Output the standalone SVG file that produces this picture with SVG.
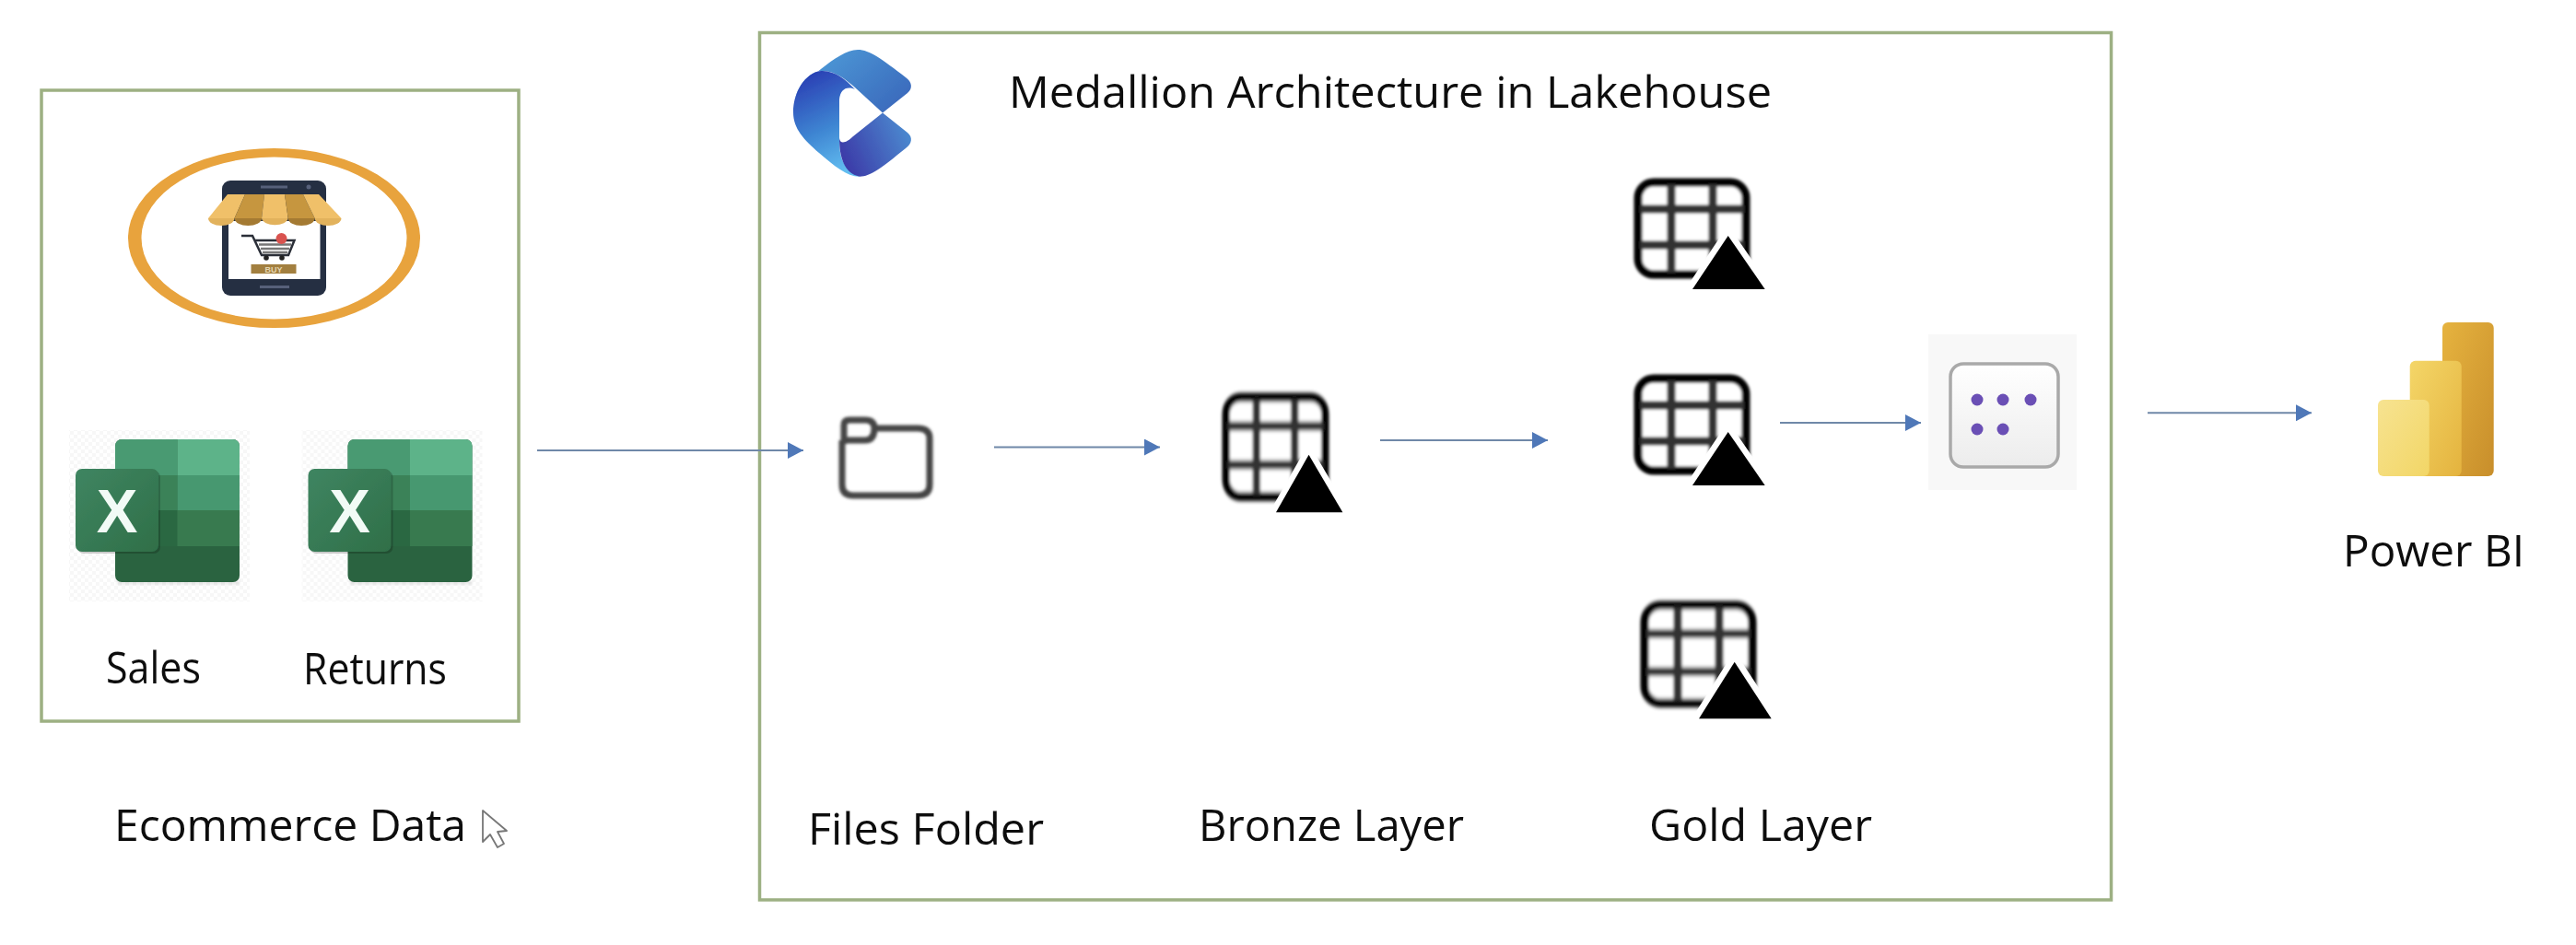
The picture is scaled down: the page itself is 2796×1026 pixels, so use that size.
<svg xmlns="http://www.w3.org/2000/svg" width="2796" height="1026" viewBox="0 0 2796 1026">
<style>
.box{fill:#fff;stroke:#9DB083;stroke-width:3.5}
.lbl{font-family:"Open Sans","Liberation Sans",sans-serif;font-size:47px;fill:#111;filter:url(#soft2)}
.conn{fill:none;stroke:#6F88A8;stroke-width:2;marker-end:url(#arr)}
</style>
<defs>
<marker id="arr" markerUnits="userSpaceOnUse" markerWidth="18" markerHeight="18" refX="17" refY="9" orient="auto"><path d="M0 0L17 9L0 18Z" fill="#4F78B8"/></marker>
<filter id="soft" x="-10%" y="-10%" width="120%" height="120%"><feGaussianBlur stdDeviation="1.8"/></filter>
<filter id="soft2" x="-10%" y="-10%" width="120%" height="120%"><feGaussianBlur stdDeviation="0.7"/></filter>
<pattern id="chk" width="8" height="8" patternUnits="userSpaceOnUse"><rect width="8" height="8" fill="#fff"/><rect width="4" height="4" fill="#f1f1f1"/><rect x="4" y="4" width="4" height="4" fill="#f1f1f1"/></pattern>
<linearGradient id="xfront" x1="0" y1="0" x2="1" y2="1"><stop offset="0" stop-color="#3F8561"/><stop offset="1" stop-color="#2F6F48"/></linearGradient>
<linearGradient id="lgA" x1="0" y1="0" x2="1" y2="0.6"><stop offset="0" stop-color="#50A3DC"/><stop offset="1" stop-color="#3C6DBE"/></linearGradient>
<linearGradient id="lgB" x1="0.3" y1="0" x2="0.6" y2="1"><stop offset="0" stop-color="#2A3FB4"/><stop offset="0.55" stop-color="#3E85D2"/><stop offset="1" stop-color="#62BDF0"/></linearGradient>
<linearGradient id="lgC" x1="0" y1="0.6" x2="1" y2="0.2"><stop offset="0" stop-color="#3C3BA8"/><stop offset="1" stop-color="#4C8ED2"/></linearGradient>
<linearGradient id="pb1" x1="0" y1="0" x2="1" y2="1"><stop offset="0" stop-color="#E6B33F"/><stop offset="1" stop-color="#C88E2B"/></linearGradient>
<linearGradient id="pb2" x1="0" y1="0" x2="1" y2="1"><stop offset="0" stop-color="#F4D668"/><stop offset="1" stop-color="#E4B33E"/></linearGradient>
<linearGradient id="pb3" x1="0" y1="0" x2="1" y2="1"><stop offset="0" stop-color="#F7E391"/><stop offset="1" stop-color="#F2D666"/></linearGradient>
<linearGradient id="sm" x1="0" y1="0" x2="0" y2="1"><stop offset="0" stop-color="#fff"/><stop offset="1" stop-color="#ececec"/></linearGradient>
<g id="tableIcon">
<g filter="url(#soft)">
<rect x="4" y="4" width="117" height="100" rx="17" fill="#fff" stroke="#000" stroke-width="9"/>
<path d="M40 6V102M85 6V102M6 33H119M6 72H119" stroke="#333" stroke-width="9" fill="none"/>
</g>
<path d="M101.700 62L63 120H141.700Z" fill="#fff" stroke="#fff" stroke-width="13" stroke-linejoin="miter"/>
<path d="M101.700 62L63 120H141.700Z" fill="#000" filter="url(#soft2)"/>
</g>
<g id="excelIcon">
<rect x="75" y="467" width="196" height="186" fill="url(#chk)" opacity="0.55"/>
<rect x="127" y="630" width="133" height="5" fill="#000" opacity="0.08" filter="url(#soft)"/>
<g filter="url(#soft2)">
<rect x="125" y="477" width="135" height="155" rx="7" fill="#2B6340"/>
<path d="M132 477H192.500V516H125V484A7 7 0 0 1 132 477Z" fill="#4A9A72"/>
<path d="M192.500 477H253A7 7 0 0 1 260 484V516H192.500Z" fill="#5DB389"/>
<rect x="125" y="516" width="67.500" height="38" fill="#3A8259"/>
<rect x="192.500" y="516" width="67.500" height="38" fill="#47986F"/>
<rect x="125" y="554" width="67.500" height="39" fill="#2C6743"/>
<rect x="192.500" y="554" width="67.500" height="39" fill="#377A50"/>
<rect x="84" y="511" width="90" height="90" rx="7" fill="#000" opacity="0.2"/>
<rect x="82" y="509" width="90" height="90" rx="7" fill="url(#xfront)"/>
<text x="127" y="578" font-family="'Liberation Sans',sans-serif" font-weight="700" font-size="67" text-anchor="middle" fill="#F2FBF6">X</text>
</g>
</g>
</defs>
<rect width="2796" height="1026" fill="#fff"/>

<g id="ecommerce-box"><rect class="box" x="45" y="98" width="518" height="685"/></g>

<g id="store">
<path fill-rule="evenodd" fill="#E8A33D" d="M139 258.500a158.500 97.500 0 1 0 317 0a158.500 97.500 0 1 0-317 0ZM153.500 258.500a144 88 0 1 1 288 0a144 88 0 1 1-288 0Z"/>
<rect x="241" y="196" width="113" height="125" rx="9" fill="#252F42"/>
<rect x="248" y="240" width="99.500" height="63" fill="#fff"/>
<path d="M283 203H312M282 311.500H314" stroke="#56607A" stroke-width="3" fill="none"/>
<circle cx="335" cy="203" r="2.500" fill="#56607A"/>
<path d="M247 211H266L254.500 237H226Z" fill="#F0C069"/>
<path d="M266 211H287L284 237H254.500Z" fill="#C6963F"/>
<path d="M287 211H309L312.700 237H284Z" fill="#F0C069"/>
<path d="M309 211H329L341.700 237H312.700Z" fill="#C6963F"/>
<path d="M329 211H346L370.500 237H341.700Z" fill="#F0C069"/>
<path d="M226 237a14.200 8 0 0 0 28.500 0Z" fill="#E2B25C"/>
<path d="M254.500 237a14.700 8 0 0 0 29.500 0Z" fill="#A47A32"/>
<path d="M284 237a14.400 8 0 0 0 28.700 0Z" fill="#E2B25C"/>
<path d="M312.700 237a14.500 8 0 0 0 29 0Z" fill="#A47A32"/>
<path d="M341.700 237a14.400 8 0 0 0 28.800 0Z" fill="#E2B25C"/>
<path d="M262 256H274L284 277H313L319.500 261H277" fill="none" stroke="#2B2F38" stroke-width="2.500"/>
<path d="M281 265.500H316M283 270H314M285 274H312" stroke="#777" stroke-width="2.500" fill="none"/>
<circle cx="289" cy="280" r="2.800" fill="#222"/><circle cx="306" cy="280" r="2.800" fill="#222"/>
<circle cx="305.500" cy="259" r="6" fill="#D9534F"/>
<rect x="272.500" y="287" width="49" height="10" fill="#A27F3F"/>
<text x="297" y="295.500" font-family="'Liberation Sans',sans-serif" font-size="9" font-weight="700" text-anchor="middle" fill="#E5D6B0">BUY</text>
</g>

<g id="sales"><use href="#excelIcon"/><text class="lbl" x="115" y="742" textLength="103" lengthAdjust="spacingAndGlyphs">Sales</text></g>
<g id="returns"><use href="#excelIcon" x="252.500"/><text class="lbl" x="329" y="743" textLength="156" lengthAdjust="spacingAndGlyphs">Returns</text></g>

<g id="ecommerce-label"><text class="lbl" x="124" y="913" textLength="382" lengthAdjust="spacingAndGlyphs">Ecommerce Data</text></g>
<g id="cursor"><path d="M524 880V914L532 906L540 920L547 916L540 903L550 902Z" fill="#fff" stroke="#777" stroke-width="1.800" stroke-linejoin="round"/></g>

<g id="lakehouse-box"><rect class="box" x="824.500" y="35.500" width="1467" height="941.500"/></g>

<g id="logo" filter="url(#soft2)">
<path d="M861 122C861 100 872 90 891 75C905 64 919 54 931 54C944 54 957 64 983 84C990 89 991 96 985 101L958 122.500L928 95C918 86 905 76 891 77C874 79 861 100 861 122Z" fill="url(#lgA)"/>
<path d="M891 77C905 76 918 86 928 97C918 93 912 98 911 108V150C911 170 914 183 933 191.700C920 192 905 180 889 166C873 152 861 140 861 122C861 100 874 79 891 77Z" fill="url(#lgB)"/>
<path d="M911 150C912 158 920 154 926 148L958 122.500L985 144C991 149 990 156 983 161C957 182 945 191.700 933 191.700C916 188 911 170 911 150Z" fill="url(#lgC)"/>
</g>

<g id="title"><text class="lbl" x="1095" y="117" textLength="828" lengthAdjust="spacingAndGlyphs">Medallion Architecture in Lakehouse</text></g>

<g id="files">
<path filter="url(#soft)" d="M916 482V461Q916 456 922 456H939Q949 456 949 465Q949 478 939 478H916M949 465H996Q1009 465 1009 476V526Q1009 538 996 538H926Q914 538 914 526V478" fill="none" stroke="#444" stroke-width="7"/>
<text class="lbl" x="877" y="917" textLength="256" lengthAdjust="spacingAndGlyphs">Files Folder</text>
</g>

<g id="bronze">
<use href="#tableIcon" transform="translate(1327 427) scale(0.92 1.078)"/>
<text class="lbl" x="1301" y="913" textLength="288" lengthAdjust="spacingAndGlyphs">Bronze Layer</text>
</g>

<g id="gold-1"><use href="#tableIcon" transform="translate(1774 194)"/></g>
<g id="gold-2"><use href="#tableIcon" transform="translate(1774 407)"/></g>
<g id="gold-3">
<use href="#tableIcon" transform="translate(1781 653) scale(1 1.06)"/>
<text class="lbl" x="1790" y="913" textLength="242" lengthAdjust="spacingAndGlyphs">Gold Layer</text>
</g>

<g id="semantic-model">
<rect x="2093" y="363" width="161" height="169" fill="#F8F8F8"/>
<rect x="2117" y="395" width="117" height="112" rx="14" fill="url(#sm)" stroke="#A9A9A9" stroke-width="3.500" filter="url(#soft2)"/>
<g fill="#6B4FB5" filter="url(#soft2)"><circle cx="2146" cy="434" r="6.500"/><circle cx="2174" cy="434" r="6.500"/><circle cx="2204" cy="434" r="6.500"/><circle cx="2146" cy="466" r="6.500"/><circle cx="2174" cy="466" r="6.500"/></g>
</g>

<g id="power-bi">
<rect x="2651" y="350" width="55.700" height="167" rx="6" fill="url(#pb1)"/>
<rect x="2615.700" y="391.700" width="56" height="125.300" rx="6" fill="url(#pb2)"/>
<rect x="2581" y="434" width="55.700" height="83" rx="6" fill="url(#pb3)"/>
<text class="lbl" x="2543" y="615" textLength="197" lengthAdjust="spacingAndGlyphs">Power BI</text>
</g>

<g id="connectors">
<path class="conn" d="M583 489H872"/>
<path class="conn" d="M1079 485.500H1259"/>
<path class="conn" d="M1498 478H1680"/>
<path class="conn" d="M1932 459H2085"/>
<path class="conn" d="M2331 448.300H2509"/>
</g>
</svg>
